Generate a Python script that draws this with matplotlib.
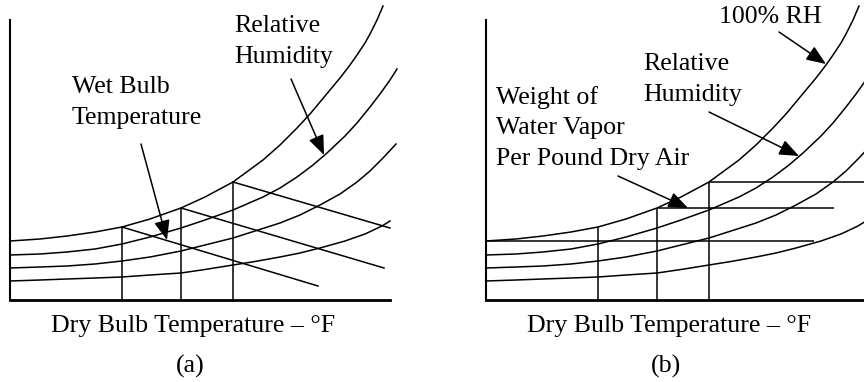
import matplotlib.pyplot as plt

plt.rcParams['font.family'] = ['Liberation Serif', 'DejaVu Serif']
plt.rcParams['font.size'] = 18.6

# кривые относительной влажности: x - сухой термометр, y - влагосодержание (усл. ед.)
rh100_x = [0, 30, 57, 85, 112, 140, 171, 195, 223, 253, 270, 287, 300, 310, 320, 330, 340, 347, 355, 360, 367, 373]
rh100_y = [59, 61, 64, 68, 73, 81, 92, 103, 118, 140, 155, 172, 186, 198, 210, 222, 235, 245, 257, 266, 280, 294]
rh2_x = [0, 30, 57, 85, 112, 140, 171, 195, 223, 253, 270, 287, 303, 317, 335, 347, 360, 370, 380, 387]
rh2_y = [45, 46, 48, 51, 56, 63, 72, 80, 90, 103, 112, 123, 135, 147, 164, 177, 193, 206, 220, 231]
rh3_x = [0, 30, 57, 85, 112, 140, 171, 195, 223, 245, 270, 290, 310, 330, 347, 360, 373, 386]
rh3_y = [32, 33, 34, 36, 39, 43, 49, 55, 62, 69, 77, 85, 95, 106, 118, 129, 142, 156]
rh4_x = [0, 30, 57, 85, 112, 140, 171, 195, 223, 245, 270, 290, 310, 335, 355, 372, 380]
rh4_y = [19, 20, 21, 22, 23, 25, 27, 30.5, 35, 38.5, 43, 47, 52, 59, 66, 74, 79]

# точки на линии насыщения (откуда идут вертикали)
db_marks = [112, 171, 223]
db_tops = [73, 92, 118]

# линии мокрого термометра (a): концы
wb_end_x = [308, 374, 380]
wb_end_y = [14, 32, 72]

# линии влагосодержания (b)
w_levels = [59, 92, 118]
w_start = [0, 171, 223]
w_end = [328, 348, 392]

# подпись про влагосодержание, по строкам
w_label_lines = ['Weight of', 'Water Vapor', 'Per Pound Dry Air']
w_label_tops = [214, 183, 152]

fig = plt.figure(figsize=(8.64, 3.82), dpi=100)
ax_a = fig.add_axes([10 / 864, 82 / 382, 390 / 864, 300 / 382])
ax_b = fig.add_axes([486 / 864, 82 / 382, 390 / 864, 300 / 382])

arrow_kw = dict(arrowstyle='-|>,head_length=0.6,head_width=0.24', color='black',
                lw=1.1, mutation_scale=20, shrinkA=0, shrinkB=0)


def draw_base(ax, letter):
    ax.set_xlim(0, 390)
    ax.set_ylim(0, 300)
    ax.set_xticks([])
    ax.set_yticks([])
    ax.patch.set_visible(False)
    for side in ['top', 'right']:
        ax.spines[side].set_visible(False)
    ax.spines['left'].set_bounds(0, 280)
    ax.spines['left'].set_linewidth(1.5)
    ax.spines['bottom'].set_bounds(0, 380)
    ax.spines['bottom'].set_linewidth(2.0)
    for xs, ys in [(rh100_x, rh100_y), (rh2_x, rh2_y), (rh3_x, rh3_y), (rh4_x, rh4_y)]:
        ax.plot(xs, ys, color='black', lw=1.1, clip_on=False, solid_joinstyle='round')
    ax.vlines(db_marks, 0, db_tops, color='black', lw=1.1)
    ax.text(183, -32, 'Dry Bulb Temperature \u2013 °F', ha='center', va='baseline', clip_on=False)
    ax.text(180, -73, '(' + letter + ')', ha='center', va='baseline', clip_on=False)


# (a) мокрый термометр
draw_base(ax_a, 'a')
for x0, y0, x1, y1 in zip(db_marks, db_tops, wb_end_x, wb_end_y):
    ax_a.plot([x0, x1], [y0, y1], color='black', lw=1.1)
ax_a.text(224, 285, 'Relative\nHumidity', ha='left', va='top', linespacing=1.55)
ax_a.text(62, 224, 'Wet Bulb\nTemperature', ha='left', va='top', linespacing=1.55)
ax_a.annotate('', xy=(314, 145), xytext=(281, 221), arrowprops=arrow_kw)
ax_a.annotate('', xy=(157, 60), xytext=(131, 156), arrowprops=arrow_kw)

# (b) влагосодержание
draw_base(ax_b, 'b')
ax_b.hlines(w_levels, w_start, w_end, color='black', lw=1.1, clip_on=False)
ax_b.text(233, 294, '100% RH', ha='left', va='top')
ax_b.text(157, 247, 'Relative\nHumidity', ha='left', va='top', linespacing=1.5)
for line, top in zip(w_label_lines, w_label_tops):
    ax_b.text(10, top, line, ha='left', va='top')
ax_b.annotate('', xy=(340, 236), xytext=(293, 268), arrowprops=arrow_kw)
ax_b.annotate('', xy=(313, 144), xytext=(223, 188), arrowprops=arrow_kw)
ax_b.annotate('', xy=(202, 92), xytext=(132, 124), arrowprops=arrow_kw)

fig.savefig('out.png', dpi=100)
